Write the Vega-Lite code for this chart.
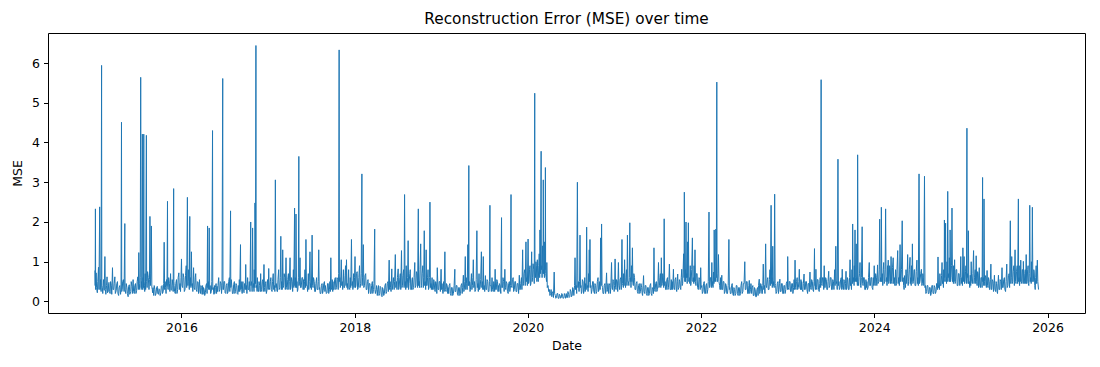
{
"$schema": "https://vega.github.io/schema/vega-lite/v6.json",
"width": 1037, "height": 280,
"autosize": {"type": "none"},
"padding": {"left": 48, "top": 33, "right": 15, "bottom": 54},
"background": "white",
"title": {"text": "Reconstruction Error (MSE) over time", "fontSize": 15.3, "font": "DejaVu Sans", "fontWeight": "normal", "color": "black", "offset": 6, "anchor": "middle"},
"config": {"view": {"stroke": "black", "strokeWidth": 1}, "axis": {"labelFont": "DejaVu Sans", "titleFont": "DejaVu Sans", "labelFontSize": 12.5, "titleFontSize": 12.5, "labelColor": "black", "titleColor": "black", "tickColor": "black", "grid": false, "titleFontWeight": "normal", "domain": false, "tickSize": 4.5, "tickWidth": 1}},
"data": {"values": [
{"d":"2015-01-01","v":0.78},{"d":"2015-01-02","v":0.4},{"d":"2015-01-03","v":2.33},{"d":"2015-01-04","v":0.3},{"d":"2015-01-06","v":0.72},{"d":"2015-01-08","v":0.35},{"d":"2015-01-11","v":0.22},{"d":"2015-01-13","v":0.5},{"d":"2015-01-16","v":0.86},{"d":"2015-01-18","v":0.3},{"d":"2015-01-21","v":2.38},{"d":"2015-01-23","v":0.3},{"d":"2015-01-25","v":0.55},{"d":"2015-01-27","v":0.25},{"d":"2015-01-29","v":5.94},{"d":"2015-01-30","v":0.4},
{"d":"2015-02-01","v":0.35},{"d":"2015-02-03","v":0.2},{"d":"2015-02-06","v":0.55},{"d":"2015-02-09","v":0.28},{"d":"2015-02-12","v":1.13},{"d":"2015-02-14","v":0.3},{"d":"2015-02-16","v":0.18},{"d":"2015-02-19","v":0.4},{"d":"2015-02-21","v":0.62},{"d":"2015-02-23","v":0.22},{"d":"2015-02-26","v":0.25},{"d":"2015-02-28","v":0.45},
{"d":"2015-03-01","v":0.48},{"d":"2015-03-03","v":0.25},{"d":"2015-03-06","v":0.2},{"d":"2015-03-08","v":0.5},{"d":"2015-03-11","v":0.4},{"d":"2015-03-13","v":0.18},{"d":"2015-03-16","v":0.85},{"d":"2015-03-18","v":0.3},{"d":"2015-03-21","v":0.3},{"d":"2015-03-23","v":0.45},{"d":"2015-03-26","v":0.62},{"d":"2015-03-28","v":0.2},
{"d":"2015-04-01","v":0.28},{"d":"2015-04-03","v":0.45},{"d":"2015-04-06","v":0.5},{"d":"2015-04-08","v":0.2},{"d":"2015-04-11","v":0.15},{"d":"2015-04-13","v":0.35},{"d":"2015-04-16","v":0.4},{"d":"2015-04-19","v":0.18},{"d":"2015-04-21","v":0.3},{"d":"2015-04-23","v":4.51},{"d":"2015-04-24","v":0.25},{"d":"2015-04-26","v":0.3},{"d":"2015-04-28","v":0.5},
{"d":"2015-05-01","v":0.55},{"d":"2015-05-04","v":0.25},{"d":"2015-05-07","v":1.96},{"d":"2015-05-08","v":0.3},{"d":"2015-05-11","v":0.2},{"d":"2015-05-13","v":0.45},{"d":"2015-05-16","v":0.35},{"d":"2015-05-18","v":0.2},{"d":"2015-05-21","v":0.12},{"d":"2015-05-23","v":0.38},{"d":"2015-05-26","v":0.42},{"d":"2015-05-28","v":0.18},
{"d":"2015-06-01","v":0.25},{"d":"2015-06-03","v":0.5},{"d":"2015-06-06","v":0.38},{"d":"2015-06-08","v":0.2},{"d":"2015-06-11","v":0.55},{"d":"2015-06-13","v":0.25},{"d":"2015-06-16","v":0.2},{"d":"2015-06-18","v":0.4},{"d":"2015-06-21","v":0.45},{"d":"2015-06-23","v":0.2},{"d":"2015-06-26","v":0.28},{"d":"2015-06-28","v":0.5},
{"d":"2015-07-01","v":0.62},{"d":"2015-07-03","v":0.3},{"d":"2015-07-05","v":1.23},{"d":"2015-07-07","v":0.45},{"d":"2015-07-09","v":0.3},{"d":"2015-07-11","v":0.6},{"d":"2015-07-13","v":5.64},{"d":"2015-07-15","v":0.35},{"d":"2015-07-16","v":0.5},{"d":"2015-07-18","v":0.3},{"d":"2015-07-20","v":4.21},{"d":"2015-07-22","v":0.3},{"d":"2015-07-23","v":0.6},{"d":"2015-07-25","v":0.35},{"d":"2015-07-26","v":4.21},{"d":"2015-07-27","v":0.5},{"d":"2015-07-29","v":0.4},{"d":"2015-07-30","v":0.25},
{"d":"2015-08-01","v":0.7},{"d":"2015-08-03","v":0.3},{"d":"2015-08-06","v":4.18},{"d":"2015-08-07","v":0.5},{"d":"2015-08-09","v":0.35},{"d":"2015-08-11","v":0.75},{"d":"2015-08-14","v":0.6},{"d":"2015-08-17","v":0.3},{"d":"2015-08-19","v":0.55},{"d":"2015-08-21","v":2.14},{"d":"2015-08-23","v":0.4},{"d":"2015-08-25","v":0.7},{"d":"2015-08-27","v":1.9},{"d":"2015-08-29","v":0.35},{"d":"2015-08-31","v":0.3},
{"d":"2015-09-01","v":0.22},{"d":"2015-09-03","v":0.35},{"d":"2015-09-06","v":0.15},{"d":"2015-09-08","v":0.4},{"d":"2015-09-11","v":0.3},{"d":"2015-09-13","v":0.15},{"d":"2015-09-16","v":0.2},{"d":"2015-09-18","v":0.35},{"d":"2015-09-21","v":0.38},{"d":"2015-09-23","v":0.2},{"d":"2015-09-26","v":0.18},{"d":"2015-09-28","v":0.32},
{"d":"2015-10-01","v":0.3},{"d":"2015-10-03","v":0.15},{"d":"2015-10-06","v":0.22},{"d":"2015-10-08","v":0.38},{"d":"2015-10-11","v":0.4},{"d":"2015-10-13","v":0.2},{"d":"2015-10-16","v":0.25},{"d":"2015-10-18","v":0.45},{"d":"2015-10-20","v":1.49},{"d":"2015-10-22","v":0.3},{"d":"2015-10-24","v":0.5},{"d":"2015-10-26","v":0.35},{"d":"2015-10-28","v":0.2},{"d":"2015-10-30","v":0.55},
{"d":"2015-11-01","v":0.4},{"d":"2015-11-03","v":2.52},{"d":"2015-11-04","v":0.35},{"d":"2015-11-06","v":0.3},{"d":"2015-11-08","v":0.6},{"d":"2015-11-11","v":0.45},{"d":"2015-11-13","v":0.25},{"d":"2015-11-16","v":0.7},{"d":"2015-11-18","v":0.3},{"d":"2015-11-21","v":0.28},{"d":"2015-11-23","v":0.55},{"d":"2015-11-26","v":0.4},{"d":"2015-11-27","v":0.25},{"d":"2015-11-29","v":2.84},{"d":"2015-11-30","v":0.5},
{"d":"2015-12-01","v":0.4},{"d":"2015-12-03","v":0.25},{"d":"2015-12-06","v":0.2},{"d":"2015-12-08","v":0.45},{"d":"2015-12-11","v":0.55},{"d":"2015-12-13","v":0.2},{"d":"2015-12-16","v":0.3},{"d":"2015-12-18","v":0.6},{"d":"2015-12-21","v":0.72},{"d":"2015-12-23","v":0.3},{"d":"2015-12-26","v":0.45},{"d":"2015-12-28","v":0.25},{"d":"2015-12-30","v":0.6},
{"d":"2016-01-01","v":1.07},{"d":"2016-01-03","v":0.4},{"d":"2016-01-06","v":0.35},{"d":"2016-01-08","v":0.7},{"d":"2016-01-11","v":0.6},{"d":"2016-01-13","v":0.25},{"d":"2016-01-16","v":0.3},{"d":"2016-01-18","v":0.65},{"d":"2016-01-21","v":0.9},{"d":"2016-01-23","v":0.35},{"d":"2016-01-26","v":2.62},{"d":"2016-01-28","v":0.4},{"d":"2016-01-30","v":0.8},
{"d":"2016-02-01","v":0.5},{"d":"2016-02-03","v":0.3},{"d":"2016-02-05","v":2.14},{"d":"2016-02-06","v":0.4},{"d":"2016-02-08","v":0.6},{"d":"2016-02-10","v":0.35},{"d":"2016-02-12","v":1.25},{"d":"2016-02-14","v":0.4},{"d":"2016-02-16","v":0.45},{"d":"2016-02-18","v":0.25},{"d":"2016-02-21","v":0.85},{"d":"2016-02-23","v":0.35},{"d":"2016-02-26","v":0.3},{"d":"2016-02-28","v":0.6},
{"d":"2016-03-01","v":0.7},{"d":"2016-03-03","v":0.3},{"d":"2016-03-06","v":0.25},{"d":"2016-03-08","v":0.5},{"d":"2016-03-11","v":0.48},{"d":"2016-03-13","v":0.2},{"d":"2016-03-17","v":0.55},{"d":"2016-03-19","v":0.25},{"d":"2016-03-21","v":0.2},{"d":"2016-03-23","v":0.4},{"d":"2016-03-26","v":0.35},{"d":"2016-03-28","v":0.18},{"d":"2016-03-30","v":0.4},
{"d":"2016-04-01","v":0.18},{"d":"2016-04-03","v":0.35},{"d":"2016-04-06","v":0.3},{"d":"2016-04-08","v":0.15},{"d":"2016-04-11","v":0.22},{"d":"2016-04-13","v":0.4},{"d":"2016-04-16","v":0.45},{"d":"2016-04-18","v":0.2},{"d":"2016-04-20","v":1.9},{"d":"2016-04-21","v":0.35},{"d":"2016-04-23","v":0.5},{"d":"2016-04-25","v":0.3},{"d":"2016-04-27","v":1.85},{"d":"2016-04-29","v":0.3},
{"d":"2016-05-01","v":0.4},{"d":"2016-05-03","v":0.2},{"d":"2016-05-06","v":0.25},{"d":"2016-05-08","v":0.5},{"d":"2016-05-11","v":4.3},{"d":"2016-05-12","v":0.3},{"d":"2016-05-14","v":0.35},{"d":"2016-05-17","v":0.18},{"d":"2016-05-19","v":0.4},{"d":"2016-05-21","v":0.2},{"d":"2016-05-23","v":0.35},{"d":"2016-05-26","v":0.45},{"d":"2016-05-28","v":0.2},{"d":"2016-05-30","v":0.38},
{"d":"2016-06-01","v":0.25},{"d":"2016-06-03","v":0.4},{"d":"2016-06-06","v":0.6},{"d":"2016-06-08","v":0.25},{"d":"2016-06-11","v":0.3},{"d":"2016-06-13","v":0.5},{"d":"2016-06-16","v":0.45},{"d":"2016-06-18","v":0.2},{"d":"2016-06-20","v":0.4},{"d":"2016-06-23","v":5.61},{"d":"2016-06-24","v":0.3},{"d":"2016-06-26","v":0.3},{"d":"2016-06-28","v":0.5},
{"d":"2016-07-01","v":0.5},{"d":"2016-07-03","v":0.22},{"d":"2016-07-06","v":0.2},{"d":"2016-07-08","v":0.4},{"d":"2016-07-11","v":0.45},{"d":"2016-07-13","v":0.2},{"d":"2016-07-16","v":0.25},{"d":"2016-07-18","v":0.5},{"d":"2016-07-21","v":0.6},{"d":"2016-07-23","v":0.25},{"d":"2016-07-26","v":2.28},{"d":"2016-07-27","v":0.35},{"d":"2016-07-29","v":0.55},
{"d":"2016-08-01","v":0.35},{"d":"2016-08-03","v":0.2},{"d":"2016-08-06","v":0.2},{"d":"2016-08-08","v":0.42},{"d":"2016-08-11","v":0.5},{"d":"2016-08-13","v":0.2},{"d":"2016-08-16","v":0.25},{"d":"2016-08-18","v":0.45},{"d":"2016-08-21","v":0.4},{"d":"2016-08-23","v":0.2},{"d":"2016-08-26","v":0.18},{"d":"2016-08-28","v":0.4},{"d":"2016-08-30","v":0.25},
{"d":"2016-09-01","v":0.55},{"d":"2016-09-03","v":0.25},{"d":"2016-09-06","v":1.43},{"d":"2016-09-07","v":0.3},{"d":"2016-09-09","v":0.5},{"d":"2016-09-11","v":0.3},{"d":"2016-09-13","v":0.2},{"d":"2016-09-16","v":0.5},{"d":"2016-09-18","v":0.25},{"d":"2016-09-21","v":0.22},{"d":"2016-09-23","v":0.45},{"d":"2016-09-26","v":0.3},{"d":"2016-09-28","v":0.93},{"d":"2016-09-30","v":0.3},
{"d":"2016-10-01","v":0.4},{"d":"2016-10-03","v":0.2},{"d":"2016-10-06","v":0.6},{"d":"2016-10-08","v":0.3},{"d":"2016-10-11","v":0.3},{"d":"2016-10-13","v":0.5},{"d":"2016-10-16","v":0.25},{"d":"2016-10-19","v":2.0},{"d":"2016-10-20","v":0.4},{"d":"2016-10-23","v":0.5},{"d":"2016-10-25","v":0.25},{"d":"2016-10-27","v":1.85},{"d":"2016-10-29","v":0.35},{"d":"2016-10-31","v":0.45},
{"d":"2016-11-02","v":0.25},{"d":"2016-11-03","v":0.8},{"d":"2016-11-05","v":0.35},{"d":"2016-11-06","v":2.48},{"d":"2016-11-08","v":0.45},{"d":"2016-11-10","v":6.44},{"d":"2016-11-11","v":0.35},{"d":"2016-11-13","v":0.4},{"d":"2016-11-15","v":0.25},{"d":"2016-11-16","v":0.6},{"d":"2016-11-18","v":0.3},{"d":"2016-11-21","v":0.25},{"d":"2016-11-23","v":0.5},{"d":"2016-11-26","v":0.4},{"d":"2016-11-28","v":0.25},{"d":"2016-11-30","v":0.7},
{"d":"2016-12-02","v":0.25},{"d":"2016-12-04","v":0.3},{"d":"2016-12-07","v":0.5},{"d":"2016-12-09","v":0.55},{"d":"2016-12-11","v":0.25},{"d":"2016-12-14","v":0.93},{"d":"2016-12-16","v":0.35},{"d":"2016-12-18","v":0.25},{"d":"2016-12-20","v":0.45},{"d":"2016-12-22","v":0.5},{"d":"2016-12-24","v":0.2},{"d":"2016-12-27","v":0.3},{"d":"2016-12-29","v":0.55},
{"d":"2017-01-01","v":0.3},{"d":"2017-01-03","v":0.83},{"d":"2017-01-05","v":0.35},{"d":"2017-01-07","v":0.3},{"d":"2017-01-10","v":0.5},{"d":"2017-01-12","v":0.6},{"d":"2017-01-14","v":0.3},{"d":"2017-01-17","v":0.25},{"d":"2017-01-19","v":0.5},{"d":"2017-01-22","v":0.7},{"d":"2017-01-24","v":0.3},{"d":"2017-01-27","v":0.4},{"d":"2017-01-29","v":0.25},{"d":"2017-01-31","v":3.06},
{"d":"2017-02-02","v":0.35},{"d":"2017-02-04","v":0.45},{"d":"2017-02-07","v":0.25},{"d":"2017-02-09","v":0.25},{"d":"2017-02-11","v":0.55},{"d":"2017-02-14","v":0.8},{"d":"2017-02-16","v":0.3},{"d":"2017-02-19","v":0.35},{"d":"2017-02-21","v":0.6},{"d":"2017-02-23","v":1.64},{"d":"2017-02-25","v":0.3},{"d":"2017-02-27","v":0.5},
{"d":"2017-03-01","v":0.3},{"d":"2017-03-03","v":1.3},{"d":"2017-03-05","v":0.35},{"d":"2017-03-07","v":0.4},{"d":"2017-03-09","v":0.7},{"d":"2017-03-12","v":0.6},{"d":"2017-03-14","v":0.3},{"d":"2017-03-17","v":1.1},{"d":"2017-03-19","v":0.35},{"d":"2017-03-22","v":0.3},{"d":"2017-03-24","v":0.55},{"d":"2017-03-27","v":0.7},{"d":"2017-03-29","v":0.3},{"d":"2017-03-31","v":0.5},
{"d":"2017-04-03","v":1.1},{"d":"2017-04-05","v":0.3},{"d":"2017-04-07","v":0.35},{"d":"2017-04-09","v":0.6},{"d":"2017-04-12","v":0.5},{"d":"2017-04-14","v":0.25},{"d":"2017-04-17","v":0.8},{"d":"2017-04-19","v":0.35},{"d":"2017-04-22","v":2.35},{"d":"2017-04-23","v":0.4},{"d":"2017-04-25","v":0.6},{"d":"2017-04-27","v":0.35},{"d":"2017-04-28","v":2.2},{"d":"2017-04-30","v":0.35},
{"d":"2017-05-02","v":0.5},{"d":"2017-05-04","v":0.25},{"d":"2017-05-06","v":0.3},{"d":"2017-05-08","v":0.6},{"d":"2017-05-10","v":3.65},{"d":"2017-05-11","v":0.4},{"d":"2017-05-13","v":0.5},{"d":"2017-05-15","v":1.1},{"d":"2017-05-17","v":0.35},{"d":"2017-05-20","v":0.35},{"d":"2017-05-23","v":0.6},{"d":"2017-05-26","v":0.6},{"d":"2017-05-28","v":0.3},{"d":"2017-05-30","v":0.55},
{"d":"2017-06-01","v":0.3},{"d":"2017-06-03","v":0.5},{"d":"2017-06-05","v":0.8},{"d":"2017-06-07","v":0.35},{"d":"2017-06-09","v":1.56},{"d":"2017-06-11","v":0.4},{"d":"2017-06-14","v":0.4},{"d":"2017-06-16","v":0.25},{"d":"2017-06-19","v":0.7},{"d":"2017-06-21","v":0.3},{"d":"2017-06-23","v":0.5},{"d":"2017-06-26","v":1.25},{"d":"2017-06-28","v":0.35},{"d":"2017-06-30","v":0.45},
{"d":"2017-07-02","v":0.3},{"d":"2017-07-05","v":1.67},{"d":"2017-07-07","v":0.4},{"d":"2017-07-09","v":0.35},{"d":"2017-07-11","v":0.6},{"d":"2017-07-14","v":0.5},{"d":"2017-07-16","v":0.25},{"d":"2017-07-19","v":0.25},{"d":"2017-07-21","v":0.45},{"d":"2017-07-24","v":0.6},{"d":"2017-07-26","v":0.3},{"d":"2017-07-29","v":0.3},{"d":"2017-07-31","v":0.5},
{"d":"2017-08-02","v":1.3},{"d":"2017-08-04","v":0.3},{"d":"2017-08-06","v":0.35},{"d":"2017-08-08","v":0.2},{"d":"2017-08-11","v":0.2},{"d":"2017-08-13","v":0.4},{"d":"2017-08-16","v":0.45},{"d":"2017-08-18","v":0.2},{"d":"2017-08-21","v":0.28},{"d":"2017-08-23","v":0.45},{"d":"2017-08-26","v":0.5},{"d":"2017-08-28","v":0.25},{"d":"2017-08-30","v":0.4},
{"d":"2017-09-01","v":0.3},{"d":"2017-09-03","v":0.2},{"d":"2017-09-06","v":0.22},{"d":"2017-09-08","v":0.45},{"d":"2017-09-11","v":0.45},{"d":"2017-09-13","v":0.2},{"d":"2017-09-16","v":0.3},{"d":"2017-09-18","v":0.5},{"d":"2017-09-20","v":0.25},{"d":"2017-09-22","v":1.1},{"d":"2017-09-24","v":0.3},{"d":"2017-09-26","v":0.35},{"d":"2017-09-28","v":0.55},{"d":"2017-09-30","v":0.25},
{"d":"2017-10-01","v":0.5},{"d":"2017-10-03","v":0.3},{"d":"2017-10-06","v":0.3},{"d":"2017-10-08","v":0.55},{"d":"2017-10-11","v":0.6},{"d":"2017-10-13","v":0.3},{"d":"2017-10-16","v":0.35},{"d":"2017-10-18","v":0.6},{"d":"2017-10-21","v":0.55},{"d":"2017-10-23","v":0.3},{"d":"2017-10-25","v":0.7},{"d":"2017-10-27","v":6.33},{"d":"2017-10-28","v":0.5},{"d":"2017-10-30","v":0.6},
{"d":"2017-11-01","v":0.35},{"d":"2017-11-02","v":0.4},{"d":"2017-11-05","v":1.05},{"d":"2017-11-07","v":0.4},{"d":"2017-11-09","v":0.5},{"d":"2017-11-11","v":0.3},{"d":"2017-11-14","v":0.8},{"d":"2017-11-16","v":0.35},{"d":"2017-11-19","v":0.35},{"d":"2017-11-21","v":0.65},{"d":"2017-11-23","v":0.9},{"d":"2017-11-25","v":0.4},{"d":"2017-11-27","v":1.05},{"d":"2017-11-29","v":0.35},
{"d":"2017-12-01","v":0.45},{"d":"2017-12-03","v":0.3},{"d":"2017-12-06","v":0.8},{"d":"2017-12-08","v":0.35},{"d":"2017-12-11","v":0.3},{"d":"2017-12-13","v":0.6},{"d":"2017-12-15","v":0.35},{"d":"2017-12-18","v":1.56},{"d":"2017-12-20","v":0.4},{"d":"2017-12-22","v":0.5},{"d":"2017-12-24","v":0.3},{"d":"2017-12-27","v":0.7},{"d":"2017-12-29","v":0.35},{"d":"2017-12-31","v":0.6},
{"d":"2018-01-02","v":1.13},{"d":"2018-01-04","v":0.35},{"d":"2018-01-06","v":0.4},{"d":"2018-01-08","v":0.7},{"d":"2018-01-11","v":0.75},{"d":"2018-01-13","v":0.3},{"d":"2018-01-16","v":0.35},{"d":"2018-01-18","v":0.6},{"d":"2018-01-21","v":0.9},{"d":"2018-01-23","v":0.35},{"d":"2018-01-26","v":0.45},{"d":"2018-01-28","v":0.7},{"d":"2018-01-31","v":3.21},
{"d":"2018-02-01","v":0.4},{"d":"2018-02-03","v":0.6},{"d":"2018-02-06","v":1.43},{"d":"2018-02-08","v":0.35},{"d":"2018-02-11","v":0.4},{"d":"2018-02-13","v":0.65},{"d":"2018-02-16","v":0.7},{"d":"2018-02-18","v":0.3},{"d":"2018-02-21","v":0.3},{"d":"2018-02-23","v":0.5},{"d":"2018-02-26","v":0.55},{"d":"2018-02-28","v":0.2},
{"d":"2018-03-01","v":0.25},{"d":"2018-03-03","v":0.45},{"d":"2018-03-06","v":0.45},{"d":"2018-03-08","v":0.2},{"d":"2018-03-11","v":0.2},{"d":"2018-03-13","v":0.4},{"d":"2018-03-16","v":0.5},{"d":"2018-03-18","v":0.2},{"d":"2018-03-21","v":0.3},{"d":"2018-03-23","v":0.45},{"d":"2018-03-26","v":1.82},{"d":"2018-03-27","v":0.3},{"d":"2018-03-29","v":0.2},
{"d":"2018-04-01","v":0.3},{"d":"2018-04-03","v":0.4},{"d":"2018-04-06","v":0.15},{"d":"2018-04-08","v":0.3},{"d":"2018-04-11","v":0.4},{"d":"2018-04-13","v":0.15},{"d":"2018-04-16","v":0.2},{"d":"2018-04-18","v":0.38},{"d":"2018-04-21","v":0.35},{"d":"2018-04-23","v":0.15},{"d":"2018-04-26","v":0.12},{"d":"2018-04-28","v":0.35},
{"d":"2018-05-01","v":0.3},{"d":"2018-05-03","v":0.15},{"d":"2018-05-06","v":0.2},{"d":"2018-05-08","v":0.4},{"d":"2018-05-11","v":0.45},{"d":"2018-05-13","v":0.2},{"d":"2018-05-16","v":0.25},{"d":"2018-05-18","v":0.45},{"d":"2018-05-21","v":0.5},{"d":"2018-05-23","v":0.25},{"d":"2018-05-26","v":1.04},{"d":"2018-05-28","v":0.3},{"d":"2018-05-30","v":0.5},
{"d":"2018-06-01","v":0.35},{"d":"2018-06-03","v":0.25},{"d":"2018-06-06","v":0.82},{"d":"2018-06-08","v":0.3},{"d":"2018-06-11","v":0.45},{"d":"2018-06-13","v":0.6},{"d":"2018-06-16","v":0.3},{"d":"2018-06-18","v":0.5},{"d":"2018-06-21","v":1.18},{"d":"2018-06-23","v":0.35},{"d":"2018-06-26","v":0.5},{"d":"2018-06-28","v":0.3},{"d":"2018-06-30","v":0.6},
{"d":"2018-07-03","v":0.82},{"d":"2018-07-05","v":0.3},{"d":"2018-07-07","v":0.35},{"d":"2018-07-10","v":0.6},{"d":"2018-07-12","v":0.7},{"d":"2018-07-14","v":0.3},{"d":"2018-07-17","v":1.28},{"d":"2018-07-19","v":0.35},{"d":"2018-07-21","v":0.4},{"d":"2018-07-23","v":0.65},{"d":"2018-07-26","v":0.8},{"d":"2018-07-28","v":0.35},{"d":"2018-07-30","v":2.69},
{"d":"2018-08-01","v":0.4},{"d":"2018-08-02","v":0.5},{"d":"2018-08-04","v":0.3},{"d":"2018-08-06","v":0.9},{"d":"2018-08-08","v":0.35},{"d":"2018-08-10","v":0.35},{"d":"2018-08-12","v":0.6},{"d":"2018-08-14","v":1.53},{"d":"2018-08-16","v":0.3},{"d":"2018-08-18","v":0.45},{"d":"2018-08-21","v":0.7},{"d":"2018-08-23","v":0.8},{"d":"2018-08-25","v":0.3},{"d":"2018-08-28","v":0.3},{"d":"2018-08-30","v":0.55},
{"d":"2018-09-01","v":0.6},{"d":"2018-09-03","v":0.3},{"d":"2018-09-06","v":0.35},{"d":"2018-09-08","v":0.6},{"d":"2018-09-11","v":0.98},{"d":"2018-09-13","v":0.35},{"d":"2018-09-16","v":0.4},{"d":"2018-09-18","v":0.75},{"d":"2018-09-21","v":0.7},{"d":"2018-09-23","v":0.35},{"d":"2018-09-26","v":2.33},{"d":"2018-09-27","v":0.4},{"d":"2018-09-30","v":0.5},
{"d":"2018-10-01","v":0.35},{"d":"2018-10-03","v":0.8},{"d":"2018-10-06","v":1.45},{"d":"2018-10-08","v":0.35},{"d":"2018-10-10","v":0.4},{"d":"2018-10-12","v":0.7},{"d":"2018-10-15","v":0.9},{"d":"2018-10-17","v":0.35},{"d":"2018-10-19","v":0.6},{"d":"2018-10-21","v":1.78},{"d":"2018-10-23","v":0.4},{"d":"2018-10-25","v":0.5},{"d":"2018-10-27","v":0.3},{"d":"2018-10-29","v":1.3},{"d":"2018-10-31","v":0.4},
{"d":"2018-11-02","v":0.4},{"d":"2018-11-04","v":0.6},{"d":"2018-11-06","v":0.8},{"d":"2018-11-08","v":0.3},{"d":"2018-11-10","v":0.35},{"d":"2018-11-12","v":0.6},{"d":"2018-11-14","v":2.5},{"d":"2018-11-16","v":0.35},{"d":"2018-11-18","v":0.45},{"d":"2018-11-20","v":0.3},{"d":"2018-11-23","v":0.6},{"d":"2018-11-25","v":0.3},{"d":"2018-11-28","v":0.3},{"d":"2018-11-30","v":0.55},
{"d":"2018-12-02","v":0.5},{"d":"2018-12-04","v":0.3},{"d":"2018-12-06","v":0.25},{"d":"2018-12-08","v":0.5},{"d":"2018-12-11","v":0.45},{"d":"2018-12-13","v":0.2},{"d":"2018-12-15","v":0.85},{"d":"2018-12-18","v":0.3},{"d":"2018-12-21","v":0.3},{"d":"2018-12-23","v":0.5},{"d":"2018-12-26","v":0.5},{"d":"2018-12-28","v":0.25},{"d":"2018-12-31","v":0.81},
{"d":"2019-01-02","v":0.3},{"d":"2019-01-04","v":0.45},{"d":"2019-01-06","v":0.3},{"d":"2019-01-08","v":0.2},{"d":"2019-01-11","v":0.5},{"d":"2019-01-13","v":0.25},{"d":"2019-01-16","v":1.25},{"d":"2019-01-18","v":0.3},{"d":"2019-01-21","v":0.25},{"d":"2019-01-23","v":0.45},{"d":"2019-01-26","v":0.4},{"d":"2019-01-28","v":0.2},{"d":"2019-01-30","v":0.35},
{"d":"2019-02-01","v":0.2},{"d":"2019-02-03","v":0.4},{"d":"2019-02-06","v":0.45},{"d":"2019-02-08","v":0.2},{"d":"2019-02-11","v":0.15},{"d":"2019-02-13","v":0.35},{"d":"2019-02-16","v":0.35},{"d":"2019-02-18","v":0.15},{"d":"2019-02-21","v":0.2},{"d":"2019-02-24","v":0.4},{"d":"2019-02-27","v":0.81},{"d":"2019-02-28","v":0.25},
{"d":"2019-03-03","v":0.25},{"d":"2019-03-05","v":0.4},{"d":"2019-03-08","v":0.4},{"d":"2019-03-10","v":0.18},{"d":"2019-03-13","v":0.15},{"d":"2019-03-15","v":0.35},{"d":"2019-03-18","v":0.35},{"d":"2019-03-20","v":0.15},{"d":"2019-03-23","v":0.2},{"d":"2019-03-25","v":0.4},{"d":"2019-03-28","v":0.45},{"d":"2019-03-30","v":0.2},
{"d":"2019-04-01","v":0.35},{"d":"2019-04-04","v":0.66},{"d":"2019-04-06","v":0.25},{"d":"2019-04-08","v":0.3},{"d":"2019-04-10","v":0.5},{"d":"2019-04-12","v":1.13},{"d":"2019-04-14","v":0.3},{"d":"2019-04-16","v":0.6},{"d":"2019-04-18","v":0.45},{"d":"2019-04-20","v":0.3},{"d":"2019-04-23","v":1.43},{"d":"2019-04-25","v":0.4},{"d":"2019-04-27","v":3.42},{"d":"2019-04-28","v":0.4},{"d":"2019-04-30","v":0.5},
{"d":"2019-05-02","v":0.25},{"d":"2019-05-04","v":0.3},{"d":"2019-05-06","v":0.5},{"d":"2019-05-08","v":0.7},{"d":"2019-05-10","v":0.3},{"d":"2019-05-12","v":0.4},{"d":"2019-05-14","v":0.6},{"d":"2019-05-16","v":1.05},{"d":"2019-05-18","v":0.35},{"d":"2019-05-21","v":0.5},{"d":"2019-05-23","v":0.25},{"d":"2019-05-26","v":0.3},{"d":"2019-05-28","v":0.55},{"d":"2019-05-31","v":1.78},
{"d":"2019-06-02","v":0.35},{"d":"2019-06-04","v":0.45},{"d":"2019-06-06","v":0.25},{"d":"2019-06-09","v":0.7},{"d":"2019-06-11","v":0.3},{"d":"2019-06-14","v":0.35},{"d":"2019-06-16","v":0.55},{"d":"2019-06-19","v":1.25},{"d":"2019-06-21","v":0.35},{"d":"2019-06-23","v":0.5},{"d":"2019-06-25","v":0.3},{"d":"2019-06-27","v":1.13},{"d":"2019-06-29","v":0.3},
{"d":"2019-07-01","v":0.4},{"d":"2019-07-03","v":0.25},{"d":"2019-07-06","v":0.65},{"d":"2019-07-08","v":0.3},{"d":"2019-07-11","v":0.3},{"d":"2019-07-13","v":0.55},{"d":"2019-07-16","v":0.5},{"d":"2019-07-18","v":0.25},{"d":"2019-07-21","v":0.25},{"d":"2019-07-23","v":0.5},{"d":"2019-07-25","v":2.42},{"d":"2019-07-26","v":0.4},{"d":"2019-07-29","v":0.4},{"d":"2019-07-31","v":0.25},
{"d":"2019-08-03","v":0.6},{"d":"2019-08-05","v":0.3},{"d":"2019-08-08","v":0.25},{"d":"2019-08-10","v":0.5},{"d":"2019-08-12","v":0.45},{"d":"2019-08-14","v":0.25},{"d":"2019-08-16","v":0.81},{"d":"2019-08-18","v":0.3},{"d":"2019-08-21","v":0.3},{"d":"2019-08-23","v":0.55},{"d":"2019-08-26","v":0.5},{"d":"2019-08-28","v":0.25},{"d":"2019-08-30","v":0.4},
{"d":"2019-09-01","v":0.25},{"d":"2019-09-03","v":0.45},{"d":"2019-09-06","v":0.4},{"d":"2019-09-09","v":0.2},{"d":"2019-09-12","v":2.11},{"d":"2019-09-13","v":0.35},{"d":"2019-09-16","v":0.35},{"d":"2019-09-18","v":0.6},{"d":"2019-09-21","v":0.5},{"d":"2019-09-23","v":0.25},{"d":"2019-09-26","v":0.81},{"d":"2019-09-28","v":0.35},{"d":"2019-09-30","v":0.3},
{"d":"2019-10-02","v":0.5},{"d":"2019-10-05","v":0.45},{"d":"2019-10-07","v":0.25},{"d":"2019-10-10","v":0.2},{"d":"2019-10-12","v":0.45},{"d":"2019-10-15","v":0.5},{"d":"2019-10-17","v":0.25},{"d":"2019-10-20","v":0.4},{"d":"2019-10-22","v":2.69},{"d":"2019-10-23","v":0.4},{"d":"2019-10-26","v":0.35},{"d":"2019-10-28","v":0.55},{"d":"2019-10-31","v":0.6},
{"d":"2019-11-02","v":0.25},{"d":"2019-11-05","v":0.3},{"d":"2019-11-07","v":0.5},{"d":"2019-11-10","v":0.5},{"d":"2019-11-12","v":0.25},{"d":"2019-11-15","v":0.25},{"d":"2019-11-17","v":0.45},{"d":"2019-11-20","v":0.45},{"d":"2019-11-23","v":0.2},{"d":"2019-11-26","v":0.66},{"d":"2019-11-28","v":0.3},{"d":"2019-11-30","v":0.3},
{"d":"2019-12-02","v":0.45},{"d":"2019-12-05","v":0.6},{"d":"2019-12-07","v":0.3},{"d":"2019-12-10","v":1.3},{"d":"2019-12-12","v":0.4},{"d":"2019-12-14","v":0.45},{"d":"2019-12-16","v":0.7},{"d":"2019-12-19","v":0.8},{"d":"2019-12-21","v":0.4},{"d":"2019-12-24","v":1.5},{"d":"2019-12-26","v":0.5},{"d":"2019-12-28","v":0.6},{"d":"2019-12-30","v":0.4},
{"d":"2020-01-02","v":1.57},{"d":"2020-01-04","v":0.45},{"d":"2020-01-06","v":0.5},{"d":"2020-01-08","v":0.8},{"d":"2020-01-10","v":0.9},{"d":"2020-01-12","v":0.4},{"d":"2020-01-14","v":0.45},{"d":"2020-01-17","v":1.25},{"d":"2020-01-19","v":0.5},{"d":"2020-01-21","v":0.6},{"d":"2020-01-23","v":0.95},{"d":"2020-01-26","v":0.8},{"d":"2020-01-28","v":0.45},{"d":"2020-01-30","v":5.24},{"d":"2020-01-31","v":0.7},
{"d":"2020-02-02","v":0.6},{"d":"2020-02-04","v":1.0},{"d":"2020-02-06","v":0.9},{"d":"2020-02-08","v":0.5},{"d":"2020-02-10","v":1.05},{"d":"2020-02-12","v":0.6},{"d":"2020-02-14","v":0.5},{"d":"2020-02-16","v":0.9},{"d":"2020-02-18","v":1.2},{"d":"2020-02-20","v":0.6},{"d":"2020-02-21","v":1.8},{"d":"2020-02-23","v":0.7},{"d":"2020-02-26","v":3.78},{"d":"2020-02-27","v":0.8},{"d":"2020-02-29","v":0.9},
{"d":"2020-03-01","v":0.6},{"d":"2020-03-03","v":1.4},{"d":"2020-03-05","v":0.7},{"d":"2020-03-06","v":3.06},{"d":"2020-03-08","v":0.7},{"d":"2020-03-09","v":0.8},{"d":"2020-03-11","v":0.6},{"d":"2020-03-12","v":1.5},{"d":"2020-03-14","v":0.8},{"d":"2020-03-15","v":3.37},{"d":"2020-03-16","v":0.7},{"d":"2020-03-18","v":0.6},{"d":"2020-03-20","v":0.5},{"d":"2020-03-21","v":0.98},{"d":"2020-03-23","v":0.35},{"d":"2020-03-26","v":0.4},{"d":"2020-03-29","v":0.25},
{"d":"2020-04-01","v":0.3},{"d":"2020-04-03","v":0.15},{"d":"2020-04-06","v":0.2},{"d":"2020-04-08","v":0.3},{"d":"2020-04-11","v":0.12},{"d":"2020-04-13","v":0.2},{"d":"2020-04-16","v":0.25},{"d":"2020-04-18","v":0.1},{"d":"2020-04-21","v":0.74},{"d":"2020-04-23","v":0.2},{"d":"2020-04-26","v":0.15},{"d":"2020-04-28","v":0.08},
{"d":"2020-05-01","v":0.1},{"d":"2020-05-03","v":0.2},{"d":"2020-05-06","v":0.2},{"d":"2020-05-08","v":0.08},{"d":"2020-05-11","v":0.08},{"d":"2020-05-13","v":0.18},{"d":"2020-05-16","v":0.15},{"d":"2020-05-18","v":0.08},{"d":"2020-05-21","v":0.1},{"d":"2020-05-23","v":0.2},{"d":"2020-05-26","v":0.18},{"d":"2020-05-28","v":0.08},
{"d":"2020-06-01","v":0.09},{"d":"2020-06-03","v":0.2},{"d":"2020-06-06","v":0.15},{"d":"2020-06-08","v":0.08},{"d":"2020-06-11","v":0.2},{"d":"2020-06-13","v":0.1},{"d":"2020-06-16","v":0.1},{"d":"2020-06-18","v":0.25},{"d":"2020-06-21","v":0.18},{"d":"2020-06-23","v":0.1},{"d":"2020-06-26","v":0.12},{"d":"2020-06-28","v":0.3},
{"d":"2020-07-01","v":0.25},{"d":"2020-07-03","v":0.12},{"d":"2020-07-06","v":0.15},{"d":"2020-07-08","v":0.35},{"d":"2020-07-11","v":0.3},{"d":"2020-07-13","v":0.15},{"d":"2020-07-16","v":0.4},{"d":"2020-07-18","v":1.1},{"d":"2020-07-20","v":0.3},{"d":"2020-07-23","v":0.4},{"d":"2020-07-25","v":0.2},{"d":"2020-07-28","v":3.0},{"d":"2020-07-30","v":0.35},
{"d":"2020-08-01","v":0.5},{"d":"2020-08-04","v":0.25},{"d":"2020-08-06","v":0.5},{"d":"2020-08-08","v":1.67},{"d":"2020-08-10","v":0.35},{"d":"2020-08-12","v":0.4},{"d":"2020-08-14","v":0.2},{"d":"2020-08-16","v":0.25},{"d":"2020-08-18","v":0.55},{"d":"2020-08-21","v":0.5},{"d":"2020-08-23","v":0.2},{"d":"2020-08-26","v":0.3},{"d":"2020-08-28","v":0.6},{"d":"2020-08-30","v":0.25},
{"d":"2020-09-01","v":0.45},{"d":"2020-09-03","v":0.3},{"d":"2020-09-05","v":1.87},{"d":"2020-09-07","v":0.35},{"d":"2020-09-09","v":0.4},{"d":"2020-09-11","v":0.25},{"d":"2020-09-13","v":0.7},{"d":"2020-09-14","v":0.35},{"d":"2020-09-16","v":1.3},{"d":"2020-09-17","v":0.5},{"d":"2020-09-19","v":1.56},{"d":"2020-09-21","v":0.35},{"d":"2020-09-23","v":0.4},{"d":"2020-09-25","v":0.2},{"d":"2020-09-28","v":0.3},{"d":"2020-09-30","v":0.5},
{"d":"2020-10-03","v":0.5},{"d":"2020-10-05","v":0.25},{"d":"2020-10-08","v":0.2},{"d":"2020-10-10","v":0.45},{"d":"2020-10-13","v":0.4},{"d":"2020-10-15","v":0.2},{"d":"2020-10-18","v":0.25},{"d":"2020-10-20","v":0.5},{"d":"2020-10-23","v":0.6},{"d":"2020-10-25","v":0.25},{"d":"2020-10-28","v":0.3},{"d":"2020-10-30","v":0.5},
{"d":"2020-11-01","v":0.3},{"d":"2020-11-03","v":1.6},{"d":"2020-11-05","v":0.4},{"d":"2020-11-07","v":1.95},{"d":"2020-11-09","v":0.4},{"d":"2020-11-11","v":0.35},{"d":"2020-11-13","v":0.2},{"d":"2020-11-16","v":0.2},{"d":"2020-11-18","v":0.4},{"d":"2020-11-21","v":0.45},{"d":"2020-11-24","v":0.2},{"d":"2020-11-28","v":0.72},{"d":"2020-11-30","v":0.25},
{"d":"2020-12-02","v":0.3},{"d":"2020-12-04","v":0.45},{"d":"2020-12-07","v":0.2},{"d":"2020-12-09","v":0.4},{"d":"2020-12-12","v":0.45},{"d":"2020-12-14","v":0.2},{"d":"2020-12-16","v":0.35},{"d":"2020-12-19","v":0.98},{"d":"2020-12-21","v":0.35},{"d":"2020-12-23","v":0.3},{"d":"2020-12-25","v":0.55},{"d":"2020-12-28","v":0.5},{"d":"2020-12-30","v":0.25},
{"d":"2021-01-01","v":0.4},{"d":"2021-01-03","v":1.07},{"d":"2021-01-05","v":0.35},{"d":"2021-01-07","v":0.3},{"d":"2021-01-09","v":0.55},{"d":"2021-01-12","v":0.5},{"d":"2021-01-14","v":0.25},{"d":"2021-01-17","v":0.98},{"d":"2021-01-19","v":0.4},{"d":"2021-01-22","v":0.3},{"d":"2021-01-24","v":0.55},{"d":"2021-01-27","v":0.6},{"d":"2021-01-29","v":0.3},
{"d":"2021-02-01","v":1.56},{"d":"2021-02-03","v":0.45},{"d":"2021-02-05","v":0.4},{"d":"2021-02-07","v":0.35},{"d":"2021-02-08","v":0.7},{"d":"2021-02-10","v":0.4},{"d":"2021-02-12","v":1.05},{"d":"2021-02-14","v":0.5},{"d":"2021-02-16","v":0.35},{"d":"2021-02-18","v":0.6},{"d":"2021-02-20","v":0.8},{"d":"2021-02-22","v":0.4},{"d":"2021-02-24","v":1.67},{"d":"2021-02-26","v":0.5},{"d":"2021-02-28","v":0.5},
{"d":"2021-03-02","v":0.4},{"d":"2021-03-04","v":0.6},{"d":"2021-03-06","v":1.98},{"d":"2021-03-08","v":0.5},{"d":"2021-03-10","v":0.6},{"d":"2021-03-11","v":0.35},{"d":"2021-03-13","v":0.9},{"d":"2021-03-15","v":0.5},{"d":"2021-03-17","v":1.35},{"d":"2021-03-19","v":0.45},{"d":"2021-03-21","v":0.4},{"d":"2021-03-23","v":0.7},{"d":"2021-03-26","v":0.6},{"d":"2021-03-28","v":0.3},{"d":"2021-03-31","v":0.3},
{"d":"2021-04-02","v":0.45},{"d":"2021-04-05","v":0.5},{"d":"2021-04-07","v":0.25},{"d":"2021-04-10","v":0.2},{"d":"2021-04-12","v":0.4},{"d":"2021-04-15","v":0.45},{"d":"2021-04-17","v":0.2},{"d":"2021-04-20","v":0.25},{"d":"2021-04-22","v":0.45},{"d":"2021-04-25","v":0.35},{"d":"2021-04-27","v":0.2},{"d":"2021-04-29","v":0.15},
{"d":"2021-05-01","v":0.4},{"d":"2021-05-03","v":0.65},{"d":"2021-05-05","v":0.25},{"d":"2021-05-08","v":0.2},{"d":"2021-05-10","v":0.4},{"d":"2021-05-13","v":0.4},{"d":"2021-05-15","v":0.2},{"d":"2021-05-18","v":0.15},{"d":"2021-05-20","v":0.35},{"d":"2021-05-23","v":0.35},{"d":"2021-05-25","v":0.15},{"d":"2021-05-28","v":0.2},{"d":"2021-05-30","v":0.4},
{"d":"2021-06-02","v":0.45},{"d":"2021-06-04","v":0.2},{"d":"2021-06-07","v":0.15},{"d":"2021-06-09","v":0.35},{"d":"2021-06-12","v":0.3},{"d":"2021-06-14","v":0.2},{"d":"2021-06-16","v":1.35},{"d":"2021-06-18","v":0.3},{"d":"2021-06-21","v":0.25},{"d":"2021-06-23","v":0.45},{"d":"2021-06-26","v":0.5},{"d":"2021-06-28","v":0.25},
{"d":"2021-07-01","v":0.3},{"d":"2021-07-03","v":0.5},{"d":"2021-07-05","v":0.98},{"d":"2021-07-07","v":0.35},{"d":"2021-07-09","v":0.4},{"d":"2021-07-11","v":0.6},{"d":"2021-07-13","v":0.7},{"d":"2021-07-15","v":0.35},{"d":"2021-07-17","v":1.1},{"d":"2021-07-19","v":0.4},{"d":"2021-07-21","v":0.45},{"d":"2021-07-23","v":0.7},{"d":"2021-07-25","v":0.6},{"d":"2021-07-27","v":0.35},{"d":"2021-07-29","v":2.08},{"d":"2021-07-31","v":0.4},
{"d":"2021-08-02","v":0.5},{"d":"2021-08-04","v":0.3},{"d":"2021-08-07","v":0.3},{"d":"2021-08-09","v":0.55},{"d":"2021-08-12","v":0.6},{"d":"2021-08-14","v":0.3},{"d":"2021-08-16","v":0.35},{"d":"2021-08-18","v":0.55},{"d":"2021-08-20","v":0.94},{"d":"2021-08-23","v":0.3},{"d":"2021-08-26","v":0.3},{"d":"2021-08-28","v":0.55},{"d":"2021-08-30","v":0.3},
{"d":"2021-09-01","v":0.5},{"d":"2021-09-03","v":0.3},{"d":"2021-09-06","v":0.81},{"d":"2021-09-08","v":0.35},{"d":"2021-09-11","v":0.3},{"d":"2021-09-13","v":0.55},{"d":"2021-09-16","v":0.6},{"d":"2021-09-18","v":0.3},{"d":"2021-09-20","v":0.25},{"d":"2021-09-22","v":0.5},{"d":"2021-09-24","v":0.69},{"d":"2021-09-26","v":0.3},{"d":"2021-09-29","v":0.35},
{"d":"2021-10-01","v":0.55},{"d":"2021-10-03","v":0.5},{"d":"2021-10-05","v":0.35},{"d":"2021-10-07","v":0.3},{"d":"2021-10-09","v":0.6},{"d":"2021-10-11","v":0.81},{"d":"2021-10-13","v":0.4},{"d":"2021-10-15","v":0.45},{"d":"2021-10-17","v":0.8},{"d":"2021-10-19","v":1.2},{"d":"2021-10-21","v":0.6},{"d":"2021-10-22","v":2.75},{"d":"2021-10-24","v":0.5},{"d":"2021-10-26","v":0.8},{"d":"2021-10-27","v":0.5},{"d":"2021-10-29","v":2.0},{"d":"2021-10-31","v":0.6},
{"d":"2021-11-02","v":0.7},{"d":"2021-11-03","v":0.45},{"d":"2021-11-05","v":1.5},{"d":"2021-11-06","v":0.6},{"d":"2021-11-08","v":1.98},{"d":"2021-11-10","v":0.5},{"d":"2021-11-12","v":0.6},{"d":"2021-11-14","v":0.45},{"d":"2021-11-16","v":0.9},{"d":"2021-11-18","v":0.4},{"d":"2021-11-20","v":0.5},{"d":"2021-11-22","v":0.8},{"d":"2021-11-25","v":1.6},{"d":"2021-11-27","v":0.5},{"d":"2021-11-29","v":0.6},
{"d":"2021-12-01","v":0.45},{"d":"2021-12-02","v":0.9},{"d":"2021-12-04","v":0.5},{"d":"2021-12-06","v":1.3},{"d":"2021-12-08","v":0.5},{"d":"2021-12-10","v":0.4},{"d":"2021-12-12","v":0.7},{"d":"2021-12-15","v":0.7},{"d":"2021-12-17","v":0.35},{"d":"2021-12-20","v":0.3},{"d":"2021-12-23","v":0.6},{"d":"2021-12-26","v":0.55},{"d":"2021-12-28","v":0.3},{"d":"2021-12-30","v":0.85},
{"d":"2022-01-01","v":0.35},{"d":"2022-01-04","v":0.4},{"d":"2022-01-06","v":0.2},{"d":"2022-01-09","v":0.25},{"d":"2022-01-11","v":0.45},{"d":"2022-01-14","v":0.5},{"d":"2022-01-16","v":0.2},{"d":"2022-01-19","v":0.2},{"d":"2022-01-21","v":0.4},{"d":"2022-01-24","v":0.45},{"d":"2022-01-26","v":0.2},{"d":"2022-01-29","v":0.3},{"d":"2022-01-31","v":0.5},
{"d":"2022-02-03","v":2.25},{"d":"2022-02-05","v":0.35},{"d":"2022-02-07","v":0.4},{"d":"2022-02-09","v":0.6},{"d":"2022-02-11","v":0.6},{"d":"2022-02-13","v":0.35},{"d":"2022-02-15","v":0.98},{"d":"2022-02-17","v":0.4},{"d":"2022-02-19","v":0.5},{"d":"2022-02-20","v":0.35},{"d":"2022-02-22","v":0.74},{"d":"2022-02-24","v":0.45},{"d":"2022-02-25","v":1.8},{"d":"2022-02-27","v":0.5},
{"d":"2022-03-01","v":0.6},{"d":"2022-03-03","v":0.5},{"d":"2022-03-04","v":1.82},{"d":"2022-03-06","v":0.6},{"d":"2022-03-08","v":5.52},{"d":"2022-03-09","v":0.5},{"d":"2022-03-11","v":0.5},{"d":"2022-03-13","v":0.7},{"d":"2022-03-15","v":1.18},{"d":"2022-03-17","v":0.5},{"d":"2022-03-20","v":0.4},{"d":"2022-03-22","v":0.3},{"d":"2022-03-24","v":0.6},{"d":"2022-03-26","v":0.3},{"d":"2022-03-29","v":0.66},{"d":"2022-03-31","v":0.3},
{"d":"2022-04-02","v":0.3},{"d":"2022-04-04","v":0.5},{"d":"2022-04-07","v":0.5},{"d":"2022-04-09","v":0.2},{"d":"2022-04-12","v":0.25},{"d":"2022-04-14","v":0.45},{"d":"2022-04-17","v":0.4},{"d":"2022-04-19","v":0.2},{"d":"2022-04-22","v":0.2},{"d":"2022-04-25","v":0.4},{"d":"2022-04-28","v":1.56},{"d":"2022-04-30","v":0.3},
{"d":"2022-05-02","v":0.35},{"d":"2022-05-04","v":0.2},{"d":"2022-05-07","v":0.2},{"d":"2022-05-09","v":0.4},{"d":"2022-05-12","v":0.45},{"d":"2022-05-14","v":0.2},{"d":"2022-05-17","v":0.15},{"d":"2022-05-19","v":0.35},{"d":"2022-05-22","v":0.3},{"d":"2022-05-24","v":0.15},{"d":"2022-05-27","v":0.2},{"d":"2022-05-29","v":0.4},
{"d":"2022-06-01","v":0.4},{"d":"2022-06-03","v":0.2},{"d":"2022-06-06","v":0.15},{"d":"2022-06-08","v":0.35},{"d":"2022-06-11","v":0.35},{"d":"2022-06-13","v":0.15},{"d":"2022-06-16","v":0.2},{"d":"2022-06-18","v":0.4},{"d":"2022-06-21","v":0.5},{"d":"2022-06-23","v":0.2},{"d":"2022-06-26","v":0.25},{"d":"2022-06-28","v":0.45},
{"d":"2022-07-01","v":0.45},{"d":"2022-07-04","v":1.0},{"d":"2022-07-06","v":0.3},{"d":"2022-07-09","v":0.3},{"d":"2022-07-11","v":0.5},{"d":"2022-07-14","v":0.5},{"d":"2022-07-16","v":0.2},{"d":"2022-07-19","v":0.2},{"d":"2022-07-21","v":0.4},{"d":"2022-07-23","v":0.53},{"d":"2022-07-25","v":0.2},{"d":"2022-07-28","v":0.3},{"d":"2022-07-30","v":0.45},
{"d":"2022-08-02","v":0.2},{"d":"2022-08-04","v":0.35},{"d":"2022-08-07","v":0.4},{"d":"2022-08-09","v":0.15},{"d":"2022-08-12","v":0.15},{"d":"2022-08-14","v":0.35},{"d":"2022-08-17","v":0.3},{"d":"2022-08-19","v":0.12},{"d":"2022-08-22","v":0.12},{"d":"2022-08-24","v":0.3},{"d":"2022-08-27","v":0.35},{"d":"2022-08-29","v":0.15},{"d":"2022-08-31","v":0.4},
{"d":"2022-09-03","v":0.56},{"d":"2022-09-05","v":0.2},{"d":"2022-09-07","v":0.25},{"d":"2022-09-09","v":0.45},{"d":"2022-09-12","v":0.4},{"d":"2022-09-14","v":0.2},{"d":"2022-09-16","v":0.2},{"d":"2022-09-18","v":0.4},{"d":"2022-09-20","v":0.94},{"d":"2022-09-22","v":0.3},{"d":"2022-09-25","v":0.4},{"d":"2022-09-27","v":0.2},{"d":"2022-09-30","v":1.45},
{"d":"2022-10-02","v":0.4},{"d":"2022-10-04","v":0.35},{"d":"2022-10-07","v":0.55},{"d":"2022-10-09","v":0.6},{"d":"2022-10-11","v":0.3},{"d":"2022-10-14","v":0.3},{"d":"2022-10-16","v":0.55},{"d":"2022-10-18","v":0.8},{"d":"2022-10-20","v":0.4},{"d":"2022-10-23","v":2.42},{"d":"2022-10-25","v":0.45},{"d":"2022-10-27","v":0.6},{"d":"2022-10-28","v":0.35},{"d":"2022-10-30","v":1.39},
{"d":"2022-11-01","v":0.4},{"d":"2022-11-03","v":0.5},{"d":"2022-11-05","v":0.35},{"d":"2022-11-07","v":2.7},{"d":"2022-11-09","v":0.45},{"d":"2022-11-11","v":0.4},{"d":"2022-11-13","v":0.2},{"d":"2022-11-16","v":0.25},{"d":"2022-11-18","v":0.45},{"d":"2022-11-21","v":0.5},{"d":"2022-11-23","v":0.2},{"d":"2022-11-25","v":0.3},{"d":"2022-11-27","v":0.45},{"d":"2022-11-29","v":0.56},
{"d":"2022-12-01","v":0.25},{"d":"2022-12-04","v":0.25},{"d":"2022-12-06","v":0.45},{"d":"2022-12-09","v":0.45},{"d":"2022-12-11","v":0.2},{"d":"2022-12-14","v":0.2},{"d":"2022-12-16","v":0.4},{"d":"2022-12-19","v":0.4},{"d":"2022-12-21","v":0.2},{"d":"2022-12-24","v":0.3},{"d":"2022-12-26","v":0.45},{"d":"2022-12-29","v":0.5},{"d":"2022-12-31","v":0.3},
{"d":"2023-01-01","v":1.13},{"d":"2023-01-03","v":0.35},{"d":"2023-01-06","v":0.3},{"d":"2023-01-08","v":0.5},{"d":"2023-01-11","v":0.5},{"d":"2023-01-13","v":0.25},{"d":"2023-01-16","v":0.25},{"d":"2023-01-18","v":0.45},{"d":"2023-01-21","v":0.45},{"d":"2023-01-23","v":0.2},{"d":"2023-01-26","v":0.35},{"d":"2023-01-28","v":0.55},{"d":"2023-01-30","v":0.3},
{"d":"2023-02-01","v":1.04},{"d":"2023-02-03","v":0.35},{"d":"2023-02-05","v":0.3},{"d":"2023-02-07","v":0.5},{"d":"2023-02-10","v":0.6},{"d":"2023-02-12","v":0.3},{"d":"2023-02-15","v":0.35},{"d":"2023-02-17","v":0.5},{"d":"2023-02-19","v":0.81},{"d":"2023-02-21","v":0.35},{"d":"2023-02-24","v":0.3},{"d":"2023-02-26","v":0.55},{"d":"2023-02-28","v":0.3},
{"d":"2023-03-01","v":0.5},{"d":"2023-03-03","v":0.3},{"d":"2023-03-06","v":0.25},{"d":"2023-03-08","v":0.45},{"d":"2023-03-11","v":0.69},{"d":"2023-03-13","v":0.3},{"d":"2023-03-16","v":0.3},{"d":"2023-03-18","v":0.5},{"d":"2023-03-21","v":0.5},{"d":"2023-03-23","v":0.3},{"d":"2023-03-26","v":0.2},{"d":"2023-03-28","v":0.45},{"d":"2023-03-31","v":0.45},
{"d":"2023-04-02","v":0.25},{"d":"2023-04-05","v":0.74},{"d":"2023-04-07","v":0.35},{"d":"2023-04-10","v":0.3},{"d":"2023-04-12","v":0.55},{"d":"2023-04-15","v":0.5},{"d":"2023-04-17","v":0.3},{"d":"2023-04-20","v":0.25},{"d":"2023-04-22","v":0.5},{"d":"2023-04-24","v":1.33},{"d":"2023-04-25","v":0.4},{"d":"2023-04-27","v":0.4},{"d":"2023-04-28","v":0.3},{"d":"2023-04-30","v":0.81},
{"d":"2023-05-02","v":0.35},{"d":"2023-05-04","v":0.3},{"d":"2023-05-06","v":0.55},{"d":"2023-05-09","v":0.55},{"d":"2023-05-11","v":0.3},{"d":"2023-05-14","v":0.25},{"d":"2023-05-16","v":0.45},{"d":"2023-05-18","v":0.6},{"d":"2023-05-20","v":0.35},{"d":"2023-05-22","v":5.58},{"d":"2023-05-23","v":0.45},{"d":"2023-05-26","v":0.4},{"d":"2023-05-28","v":0.6},{"d":"2023-05-31","v":0.6},
{"d":"2023-06-02","v":0.3},{"d":"2023-06-04","v":0.9},{"d":"2023-06-06","v":0.35},{"d":"2023-06-08","v":0.35},{"d":"2023-06-10","v":0.6},{"d":"2023-06-13","v":0.55},{"d":"2023-06-15","v":0.3},{"d":"2023-06-18","v":0.3},{"d":"2023-06-20","v":0.5},{"d":"2023-06-23","v":0.76},{"d":"2023-06-25","v":0.35},{"d":"2023-06-28","v":0.4},{"d":"2023-06-30","v":0.6},
{"d":"2023-07-03","v":0.6},{"d":"2023-07-05","v":0.3},{"d":"2023-07-08","v":0.3},{"d":"2023-07-10","v":0.55},{"d":"2023-07-13","v":0.5},{"d":"2023-07-15","v":0.3},{"d":"2023-07-18","v":0.8},{"d":"2023-07-20","v":0.4},{"d":"2023-07-23","v":1.39},{"d":"2023-07-25","v":0.45},{"d":"2023-07-27","v":0.5},{"d":"2023-07-29","v":0.3},
{"d":"2023-08-01","v":3.58},{"d":"2023-08-03","v":0.4},{"d":"2023-08-05","v":0.5},{"d":"2023-08-07","v":0.3},{"d":"2023-08-10","v":0.35},{"d":"2023-08-12","v":0.55},{"d":"2023-08-15","v":0.6},{"d":"2023-08-17","v":0.3},{"d":"2023-08-19","v":0.81},{"d":"2023-08-21","v":0.35},{"d":"2023-08-24","v":0.3},{"d":"2023-08-26","v":0.55},{"d":"2023-08-29","v":0.5},{"d":"2023-08-31","v":0.3},
{"d":"2023-09-02","v":0.45},{"d":"2023-09-04","v":0.76},{"d":"2023-09-06","v":0.3},{"d":"2023-09-08","v":0.35},{"d":"2023-09-10","v":0.6},{"d":"2023-09-12","v":0.55},{"d":"2023-09-14","v":0.3},{"d":"2023-09-17","v":0.3},{"d":"2023-09-19","v":0.6},{"d":"2023-09-21","v":1.05},{"d":"2023-09-23","v":0.4},{"d":"2023-09-25","v":0.45},{"d":"2023-09-27","v":0.3},{"d":"2023-09-29","v":0.8},
{"d":"2023-10-01","v":0.45},{"d":"2023-10-02","v":1.95},{"d":"2023-10-04","v":0.5},{"d":"2023-10-06","v":0.6},{"d":"2023-10-08","v":0.4},{"d":"2023-10-09","v":0.9},{"d":"2023-10-10","v":0.5},{"d":"2023-10-12","v":1.8},{"d":"2023-10-13","v":0.6},{"d":"2023-10-15","v":0.5},{"d":"2023-10-17","v":1.45},{"d":"2023-10-18","v":0.5},{"d":"2023-10-20","v":0.6},{"d":"2023-10-22","v":0.4},{"d":"2023-10-23","v":3.69},{"d":"2023-10-25","v":0.5},{"d":"2023-10-27","v":0.4},{"d":"2023-10-29","v":0.6},{"d":"2023-10-31","v":0.7},
{"d":"2023-11-02","v":0.98},{"d":"2023-11-04","v":0.4},{"d":"2023-11-06","v":0.35},{"d":"2023-11-08","v":0.6},{"d":"2023-11-11","v":1.88},{"d":"2023-11-13","v":0.45},{"d":"2023-11-15","v":0.4},{"d":"2023-11-17","v":0.6},{"d":"2023-11-20","v":0.6},{"d":"2023-11-22","v":0.3},{"d":"2023-11-25","v":0.3},{"d":"2023-11-27","v":0.55},{"d":"2023-11-29","v":0.35},
{"d":"2023-12-01","v":0.5},{"d":"2023-12-03","v":0.3},{"d":"2023-12-06","v":0.35},{"d":"2023-12-08","v":0.6},{"d":"2023-12-11","v":0.98},{"d":"2023-12-13","v":0.4},{"d":"2023-12-16","v":0.4},{"d":"2023-12-18","v":0.6},{"d":"2023-12-21","v":0.6},{"d":"2023-12-23","v":0.35},{"d":"2023-12-26","v":0.3},{"d":"2023-12-28","v":0.6},{"d":"2023-12-30","v":0.4},
{"d":"2024-01-01","v":0.9},{"d":"2024-01-03","v":0.45},{"d":"2024-01-05","v":0.4},{"d":"2024-01-07","v":0.7},{"d":"2024-01-10","v":0.6},{"d":"2024-01-12","v":0.4},{"d":"2024-01-15","v":0.92},{"d":"2024-01-17","v":0.45},{"d":"2024-01-20","v":0.5},{"d":"2024-01-22","v":0.8},{"d":"2024-01-24","v":2.07},{"d":"2024-01-26","v":0.5},{"d":"2024-01-28","v":0.6},{"d":"2024-01-30","v":0.5},{"d":"2024-01-31","v":2.37},
{"d":"2024-02-02","v":0.5},{"d":"2024-02-04","v":0.7},{"d":"2024-02-06","v":0.4},{"d":"2024-02-08","v":0.8},{"d":"2024-02-10","v":0.98},{"d":"2024-02-12","v":0.45},{"d":"2024-02-14","v":0.5},{"d":"2024-02-16","v":0.8},{"d":"2024-02-18","v":2.33},{"d":"2024-02-20","v":0.5},{"d":"2024-02-22","v":0.6},{"d":"2024-02-24","v":0.4},{"d":"2024-02-26","v":0.9},{"d":"2024-02-27","v":0.5},{"d":"2024-02-29","v":1.04},
{"d":"2024-03-02","v":0.45},{"d":"2024-03-04","v":0.5},{"d":"2024-03-06","v":0.9},{"d":"2024-03-08","v":0.8},{"d":"2024-03-10","v":0.45},{"d":"2024-03-12","v":1.13},{"d":"2024-03-14","v":0.5},{"d":"2024-03-16","v":0.45},{"d":"2024-03-18","v":0.85},{"d":"2024-03-21","v":1.1},{"d":"2024-03-23","v":0.45},{"d":"2024-03-26","v":0.6},{"d":"2024-03-28","v":0.4},{"d":"2024-03-31","v":0.8},
{"d":"2024-04-02","v":0.4},{"d":"2024-04-04","v":0.45},{"d":"2024-04-06","v":0.8},{"d":"2024-04-09","v":1.28},{"d":"2024-04-11","v":0.45},{"d":"2024-04-13","v":0.6},{"d":"2024-04-16","v":0.4},{"d":"2024-04-19","v":1.43},{"d":"2024-04-21","v":0.5},{"d":"2024-04-23","v":0.5},{"d":"2024-04-25","v":0.8},{"d":"2024-04-28","v":2.03},{"d":"2024-04-30","v":0.5},
{"d":"2024-05-02","v":0.6},{"d":"2024-05-04","v":0.4},{"d":"2024-05-06","v":0.3},{"d":"2024-05-08","v":0.65},{"d":"2024-05-10","v":0.49},{"d":"2024-05-12","v":0.35},{"d":"2024-05-14","v":0.8},{"d":"2024-05-17","v":0.45},{"d":"2024-05-19","v":0.7},{"d":"2024-05-21","v":1.18},{"d":"2024-05-23","v":0.4},{"d":"2024-05-25","v":0.5},{"d":"2024-05-28","v":0.8},{"d":"2024-05-31","v":1.11},
{"d":"2024-06-01","v":0.45},{"d":"2024-06-03","v":0.6},{"d":"2024-06-05","v":0.4},{"d":"2024-06-06","v":0.9},{"d":"2024-06-08","v":0.5},{"d":"2024-06-10","v":1.45},{"d":"2024-06-12","v":0.45},{"d":"2024-06-14","v":0.5},{"d":"2024-06-17","v":0.8},{"d":"2024-06-19","v":0.8},{"d":"2024-06-21","v":0.4},{"d":"2024-06-24","v":0.4},{"d":"2024-06-26","v":0.75},{"d":"2024-06-29","v":1.04},
{"d":"2024-07-01","v":0.45},{"d":"2024-07-03","v":0.6},{"d":"2024-07-05","v":0.4},{"d":"2024-07-08","v":3.21},{"d":"2024-07-10","v":0.45},{"d":"2024-07-12","v":0.5},{"d":"2024-07-15","v":0.7},{"d":"2024-07-18","v":0.81},{"d":"2024-07-20","v":0.4},{"d":"2024-07-22","v":0.45},{"d":"2024-07-24","v":0.7},{"d":"2024-07-26","v":0.6},{"d":"2024-07-28","v":0.4},{"d":"2024-07-31","v":3.15},
{"d":"2024-08-02","v":0.35},{"d":"2024-08-04","v":0.4},{"d":"2024-08-06","v":0.2},{"d":"2024-08-09","v":0.25},{"d":"2024-08-11","v":0.4},{"d":"2024-08-14","v":0.4},{"d":"2024-08-16","v":0.2},{"d":"2024-08-19","v":0.2},{"d":"2024-08-21","v":0.35},{"d":"2024-08-24","v":0.35},{"d":"2024-08-26","v":0.15},{"d":"2024-08-29","v":0.22},{"d":"2024-08-31","v":0.4},
{"d":"2024-09-03","v":0.4},{"d":"2024-09-05","v":0.2},{"d":"2024-09-08","v":0.2},{"d":"2024-09-10","v":0.4},{"d":"2024-09-13","v":0.35},{"d":"2024-09-15","v":0.2},{"d":"2024-09-18","v":0.25},{"d":"2024-09-20","v":0.45},{"d":"2024-09-22","v":0.45},{"d":"2024-09-24","v":0.3},{"d":"2024-09-26","v":1.12},{"d":"2024-09-28","v":0.35},{"d":"2024-09-30","v":0.4},
{"d":"2024-10-02","v":0.3},{"d":"2024-10-04","v":0.7},{"d":"2024-10-06","v":0.4},{"d":"2024-10-09","v":0.4},{"d":"2024-10-11","v":0.65},{"d":"2024-10-13","v":0.98},{"d":"2024-10-15","v":0.45},{"d":"2024-10-17","v":0.5},{"d":"2024-10-19","v":0.35},{"d":"2024-10-20","v":0.8},{"d":"2024-10-22","v":0.5},{"d":"2024-10-23","v":2.05},{"d":"2024-10-25","v":0.6},{"d":"2024-10-28","v":1.97},{"d":"2024-10-29","v":0.5},{"d":"2024-10-31","v":0.6},
{"d":"2024-11-01","v":0.45},{"d":"2024-11-03","v":1.0},{"d":"2024-11-04","v":0.5},{"d":"2024-11-06","v":2.77},{"d":"2024-11-08","v":0.6},{"d":"2024-11-10","v":0.7},{"d":"2024-11-12","v":0.5},{"d":"2024-11-13","v":1.1},{"d":"2024-11-15","v":0.5},{"d":"2024-11-16","v":1.8},{"d":"2024-11-18","v":0.5},{"d":"2024-11-20","v":0.6},{"d":"2024-11-22","v":0.9},{"d":"2024-11-24","v":2.35},{"d":"2024-11-26","v":0.5},{"d":"2024-11-28","v":0.6},{"d":"2024-11-30","v":0.45},
{"d":"2024-12-01","v":0.9},{"d":"2024-12-03","v":0.5},{"d":"2024-12-05","v":1.05},{"d":"2024-12-07","v":0.45},{"d":"2024-12-09","v":0.5},{"d":"2024-12-11","v":0.8},{"d":"2024-12-14","v":0.8},{"d":"2024-12-16","v":0.4},{"d":"2024-12-19","v":0.4},{"d":"2024-12-21","v":0.7},{"d":"2024-12-24","v":0.7},{"d":"2024-12-27","v":0.4},{"d":"2024-12-29","v":0.6},{"d":"2024-12-31","v":1.13},
{"d":"2025-01-02","v":0.45},{"d":"2025-01-05","v":0.6},{"d":"2025-01-07","v":0.4},{"d":"2025-01-09","v":1.35},{"d":"2025-01-11","v":0.5},{"d":"2025-01-14","v":1.13},{"d":"2025-01-16","v":0.45},{"d":"2025-01-18","v":0.5},{"d":"2025-01-20","v":0.75},{"d":"2025-01-22","v":0.9},{"d":"2025-01-24","v":0.45},{"d":"2025-01-26","v":4.36},{"d":"2025-01-27","v":0.6},{"d":"2025-01-29","v":0.7},{"d":"2025-01-31","v":0.45},
{"d":"2025-02-01","v":1.78},{"d":"2025-02-03","v":0.45},{"d":"2025-02-05","v":0.5},{"d":"2025-02-07","v":0.35},{"d":"2025-02-09","v":0.66},{"d":"2025-02-11","v":0.4},{"d":"2025-02-13","v":1.0},{"d":"2025-02-15","v":0.5},{"d":"2025-02-18","v":0.45},{"d":"2025-02-20","v":0.7},{"d":"2025-02-23","v":1.28},{"d":"2025-02-25","v":0.45},{"d":"2025-02-27","v":0.6},
{"d":"2025-03-02","v":0.8},{"d":"2025-03-04","v":0.45},{"d":"2025-03-06","v":1.15},{"d":"2025-03-08","v":0.5},{"d":"2025-03-10","v":0.4},{"d":"2025-03-12","v":0.75},{"d":"2025-03-14","v":0.7},{"d":"2025-03-16","v":0.35},{"d":"2025-03-19","v":0.85},{"d":"2025-03-21","v":0.4},{"d":"2025-03-24","v":0.35},{"d":"2025-03-26","v":0.6},{"d":"2025-03-29","v":0.6},{"d":"2025-03-31","v":0.35},
{"d":"2025-04-02","v":3.12},{"d":"2025-04-03","v":0.5},{"d":"2025-04-05","v":0.6},{"d":"2025-04-07","v":0.4},{"d":"2025-04-08","v":2.58},{"d":"2025-04-10","v":0.5},{"d":"2025-04-12","v":0.4},{"d":"2025-04-14","v":0.65},{"d":"2025-04-16","v":0.6},{"d":"2025-04-18","v":0.35},{"d":"2025-04-21","v":0.78},{"d":"2025-04-23","v":0.4},{"d":"2025-04-25","v":0.35},{"d":"2025-04-27","v":0.6},{"d":"2025-04-30","v":0.5},
{"d":"2025-05-01","v":0.3},{"d":"2025-05-03","v":0.3},{"d":"2025-05-05","v":0.55},{"d":"2025-05-07","v":0.94},{"d":"2025-05-09","v":0.3},{"d":"2025-05-11","v":0.3},{"d":"2025-05-13","v":0.55},{"d":"2025-05-16","v":0.5},{"d":"2025-05-18","v":0.25},{"d":"2025-05-20","v":0.45},{"d":"2025-05-22","v":0.66},{"d":"2025-05-24","v":0.3},{"d":"2025-05-27","v":0.25},{"d":"2025-05-29","v":0.5},{"d":"2025-05-31","v":0.45},
{"d":"2025-06-02","v":0.25},{"d":"2025-06-04","v":0.2},{"d":"2025-06-06","v":0.45},{"d":"2025-06-08","v":0.66},{"d":"2025-06-10","v":0.3},{"d":"2025-06-13","v":0.3},{"d":"2025-06-15","v":0.55},{"d":"2025-06-18","v":0.5},{"d":"2025-06-20","v":0.3},{"d":"2025-06-23","v":0.85},{"d":"2025-06-25","v":0.35},{"d":"2025-06-28","v":0.35},{"d":"2025-06-30","v":0.55},
{"d":"2025-07-03","v":0.6},{"d":"2025-07-05","v":0.3},{"d":"2025-07-08","v":0.25},{"d":"2025-07-10","v":0.5},{"d":"2025-07-13","v":0.94},{"d":"2025-07-15","v":0.35},{"d":"2025-07-18","v":0.4},{"d":"2025-07-20","v":0.65},{"d":"2025-07-23","v":0.7},{"d":"2025-07-25","v":0.35},{"d":"2025-07-28","v":2.03},{"d":"2025-07-30","v":0.45},
{"d":"2025-08-01","v":0.6},{"d":"2025-08-03","v":1.13},{"d":"2025-08-05","v":0.45},{"d":"2025-08-07","v":0.5},{"d":"2025-08-09","v":0.75},{"d":"2025-08-12","v":0.9},{"d":"2025-08-14","v":0.4},{"d":"2025-08-17","v":1.3},{"d":"2025-08-19","v":0.5},{"d":"2025-08-21","v":0.45},{"d":"2025-08-23","v":0.75},{"d":"2025-08-26","v":0.9},{"d":"2025-08-28","v":0.45},{"d":"2025-08-31","v":2.58},
{"d":"2025-09-01","v":0.5},{"d":"2025-09-03","v":0.6},{"d":"2025-09-05","v":0.4},{"d":"2025-09-06","v":0.9},{"d":"2025-09-08","v":0.5},{"d":"2025-09-10","v":1.04},{"d":"2025-09-12","v":0.45},{"d":"2025-09-14","v":0.5},{"d":"2025-09-16","v":0.8},{"d":"2025-09-18","v":0.8},{"d":"2025-09-20","v":0.45},{"d":"2025-09-21","v":1.01},{"d":"2025-09-23","v":0.5},{"d":"2025-09-25","v":0.45},{"d":"2025-09-27","v":0.7},{"d":"2025-09-29","v":0.8},
{"d":"2025-10-01","v":0.45},{"d":"2025-10-03","v":1.18},{"d":"2025-10-05","v":0.45},{"d":"2025-10-07","v":0.5},{"d":"2025-10-09","v":0.8},{"d":"2025-10-11","v":0.9},{"d":"2025-10-12","v":0.45},{"d":"2025-10-14","v":0.4},{"d":"2025-10-16","v":0.7},{"d":"2025-10-18","v":2.42},{"d":"2025-10-20","v":0.5},{"d":"2025-10-22","v":0.6},{"d":"2025-10-24","v":0.45},{"d":"2025-10-25","v":1.0},{"d":"2025-10-27","v":0.5},{"d":"2025-10-29","v":2.37},{"d":"2025-10-31","v":0.5},
{"d":"2025-11-02","v":0.5},{"d":"2025-11-04","v":0.8},{"d":"2025-11-06","v":0.74},{"d":"2025-11-08","v":0.4},{"d":"2025-11-10","v":0.3},{"d":"2025-11-12","v":0.6},{"d":"2025-11-14","v":0.9},{"d":"2025-11-16","v":0.45},{"d":"2025-11-19","v":1.04},{"d":"2025-11-21","v":0.5},{"d":"2025-11-24","v":0.3}
]},
"mark": {"type": "line", "strokeWidth": 1, "color": "#1f77b4", "clip": true},
"encoding": {
"x": {"field": "d", "type": "temporal", "title": "Date",
  "scale": {"type": "utc", "domain": [{"year": 2014, "month": 6, "date": 17, "utc": true}, {"year": 2026, "month": 6, "date": 8, "utc": true}]},
  "axis": {"values": [{"year": 2016, "utc": true}, {"year": 2018, "utc": true}, {"year": 2020, "utc": true}, {"year": 2022, "utc": true}, {"year": 2024, "utc": true}, {"year": 2026, "utc": true}], "format": "%Y", "labelFlush": false, "labelPadding": 4, "titlePadding": 5}},
"y": {"field": "v", "type": "quantitative", "title": "MSE",
  "scale": {"domain": [-0.29, 6.755], "nice": false, "zero": false},
  "axis": {"values": [0, 1, 2, 3, 4, 5, 6], "labelPadding": 4, "titlePadding": 7}}
}
}
